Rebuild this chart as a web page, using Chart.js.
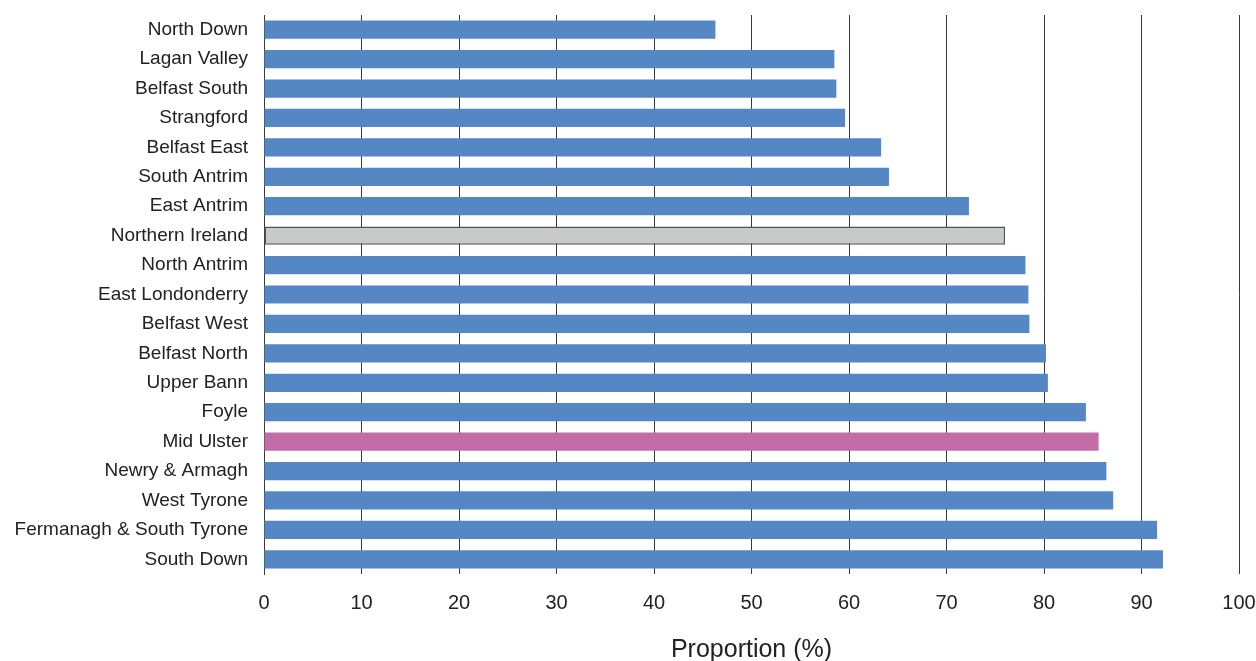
<!DOCTYPE html>
<html>
<head>
<meta charset="utf-8">
<script src="https://cdn.jsdelivr.net/npm/chart.js@4/dist/chart.umd.min.js"></script>
<style>
html,body{margin:0;padding:0;background:#fff;}
#wrap{width:1256px;height:661px;position:relative;}
</style>
</head>
<body>
<div id="wrap"><canvas id="c" width="1256" height="661"></canvas></div>
<script>
const categories = ["North Down","Lagan Valley","Belfast South","Strangford","Belfast East","South Antrim","East Antrim","Northern Ireland","North Antrim","East Londonderry","Belfast West","Belfast North","Upper Bann","Foyle","Mid Ulster","Newry & Armagh","West Tyrone","Fermanagh & South Tyrone","South Down"];
const values = [46.3,58.5,58.7,59.6,63.3,64.1,72.3,76.0,78.1,78.4,78.5,80.2,80.4,84.3,85.6,86.4,87.1,91.6,92.2];
const xTicks = [0,10,20,30,40,50,60,70,80,90,100];
const averageCategory = "Northern Ireland";
const highlightCategory = "Mid Ulster";

const FONT = "'Liberation Sans', Arial, sans-serif";
const colors = categories.map(c => c === averageCategory ? "#c8c9cb" : (c === highlightCategory ? "#c46ca8" : "#5687c5"));
const borderW = categories.map(c => c === averageCategory ? 1.5 : 0);

new Chart(document.getElementById('c'), {
  type: 'bar',
  data: {
    labels: categories,
    datasets: [{
      data: values,
      backgroundColor: colors,
      borderColor: "#555",
      borderWidth: borderW,
      borderSkipped: false,
      categoryPercentage: 1.0,
      barPercentage: 0.62
    }]
  },
  options: {
    indexAxis: 'y',
    responsive: false,
    animation: false,
    layout: { padding: { top: 15, right: 17, left: 0, bottom: 0 } },
    plugins: { legend: { display: false }, tooltip: { enabled: false } },
    scales: {
      x: {
        min: 0, max: 100,
        afterBuildTicks: s => { s.ticks = xTicks.map(v => ({ value: v })); },
        afterFit: s => { s.height = 87; s.paddingLeft = 0; s.paddingRight = 0; },
        grid: { color: "#3a3a3a", lineWidth: 1, drawTicks: false },
        border: { display: false },
        ticks: { padding: 17, color: "#222", font: { family: FONT, size: 20 } },
        title: { display: true, text: "Proportion (%)", color: "#222", padding: { top: 0, bottom: -4 }, font: { family: FONT, size: 25 } }
      },
      y: {
        afterFit: s => { s.width = 264; s.paddingTop = 0; s.paddingBottom = 0; },
        grid: { display: false, drawTicks: false },
        border: { display: true, color: "#3a3a3a", width: 1 },
        ticks: { padding: 16, color: "#222", font: { family: FONT, size: 19 } }
      }
    }
  }
});
</script>
</body>
</html>
